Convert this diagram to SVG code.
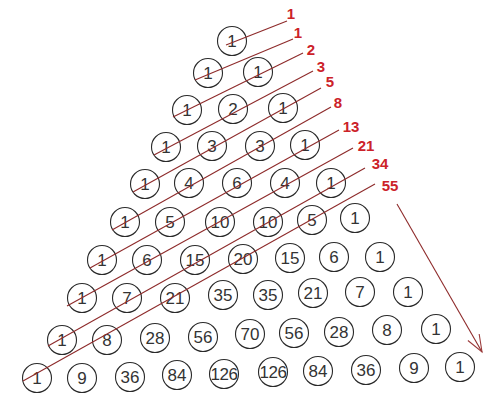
<svg xmlns="http://www.w3.org/2000/svg" width="489" height="397" viewBox="0 0 489 397">
<defs>
<style>
.n circle{fill:none;stroke:#2a2a2a;stroke-width:1.1}
.n text{font-family:"Liberation Sans",Arial,sans-serif;font-size:17px;fill:#333;text-anchor:middle}
.d line{stroke:#8e2b2b;stroke-width:1.1}
.lab{font-family:"Liberation Sans",Arial,sans-serif;font-size:15px;font-weight:bold;fill:#cc2229;text-anchor:middle}
</style>
<marker id="ah" markerUnits="userSpaceOnUse" markerWidth="24" markerHeight="16" viewBox="-20 -8 22 16" refX="0" refY="0" orient="auto">
<path d="M-17,-6.5 L0,0 L-17,6.5" fill="none" stroke="#9b3b3b" stroke-width="1.1"/>
</marker>
</defs>
<rect width="489" height="397" fill="#fff"/>
<g id="nodes">
<g id="r0c0" class="n"><circle cx="232" cy="41" r="14.5"/><text x="232" y="47">1</text></g>
<g id="r1c0" class="n"><circle cx="208" cy="73" r="14.5"/><text x="208" y="79">1</text></g>
<g id="r1c1" class="n"><circle cx="258" cy="72" r="14.5"/><text x="258" y="78">1</text></g>
<g id="r2c0" class="n"><circle cx="187" cy="110" r="14.5"/><text x="187" y="116">1</text></g>
<g id="r2c1" class="n"><circle cx="233" cy="109" r="14.5"/><text x="233" y="115">2</text></g>
<g id="r2c2" class="n"><circle cx="283" cy="108" r="14.5"/><text x="283" y="114">1</text></g>
<g id="r3c0" class="n"><circle cx="166" cy="147" r="14.5"/><text x="166" y="153">1</text></g>
<g id="r3c1" class="n"><circle cx="212" cy="146" r="14.5"/><text x="212" y="152">3</text></g>
<g id="r3c2" class="n"><circle cx="260" cy="146" r="14.5"/><text x="260" y="152">3</text></g>
<g id="r3c3" class="n"><circle cx="305" cy="145" r="14.5"/><text x="305" y="151">1</text></g>
<g id="r4c0" class="n"><circle cx="145" cy="184" r="14.5"/><text x="145" y="190">1</text></g>
<g id="r4c1" class="n"><circle cx="189" cy="183" r="14.5"/><text x="189" y="189">4</text></g>
<g id="r4c2" class="n"><circle cx="237" cy="183" r="14.5"/><text x="237" y="189">6</text></g>
<g id="r4c3" class="n"><circle cx="285" cy="183" r="14.5"/><text x="285" y="189">4</text></g>
<g id="r4c4" class="n"><circle cx="331" cy="183" r="14.5"/><text x="331" y="189">1</text></g>
<g id="r5c0" class="n"><circle cx="125" cy="222" r="14.5"/><text x="125" y="228">1</text></g>
<g id="r5c1" class="n"><circle cx="170" cy="222" r="14.5"/><text x="170" y="228">5</text></g>
<g id="r5c2" class="n"><circle cx="220" cy="222" r="14.5"/><text x="220" y="228">10</text></g>
<g id="r5c3" class="n"><circle cx="268" cy="222" r="14.5"/><text x="268" y="228">10</text></g>
<g id="r5c4" class="n"><circle cx="312" cy="220" r="14.5"/><text x="312" y="226">5</text></g>
<g id="r5c5" class="n"><circle cx="355" cy="218" r="14.5"/><text x="355" y="224">1</text></g>
<g id="r6c0" class="n"><circle cx="102" cy="260" r="14.5"/><text x="102" y="266">1</text></g>
<g id="r6c1" class="n"><circle cx="147" cy="260" r="14.5"/><text x="147" y="266">6</text></g>
<g id="r6c2" class="n"><circle cx="195" cy="260" r="14.5"/><text x="195" y="266">15</text></g>
<g id="r6c3" class="n"><circle cx="243" cy="259" r="14.5"/><text x="243" y="265">20</text></g>
<g id="r6c4" class="n"><circle cx="290" cy="258" r="14.5"/><text x="290" y="264">15</text></g>
<g id="r6c5" class="n"><circle cx="334" cy="257" r="14.5"/><text x="334" y="263">6</text></g>
<g id="r6c6" class="n"><circle cx="380" cy="257" r="14.5"/><text x="380" y="263">1</text></g>
<g id="r7c0" class="n"><circle cx="82" cy="298" r="14.5"/><text x="82" y="304">1</text></g>
<g id="r7c1" class="n"><circle cx="127" cy="298" r="14.5"/><text x="127" y="304">7</text></g>
<g id="r7c2" class="n"><circle cx="175" cy="298" r="14.5"/><text x="175" y="304">21</text></g>
<g id="r7c3" class="n"><circle cx="223" cy="295" r="14.5"/><text x="223" y="301">35</text></g>
<g id="r7c4" class="n"><circle cx="268" cy="295" r="14.5"/><text x="268" y="301">35</text></g>
<g id="r7c5" class="n"><circle cx="313" cy="293" r="14.5"/><text x="313" y="299">21</text></g>
<g id="r7c6" class="n"><circle cx="360" cy="292" r="14.5"/><text x="360" y="298">7</text></g>
<g id="r7c7" class="n"><circle cx="408" cy="292" r="14.5"/><text x="408" y="298">1</text></g>
<g id="r8c0" class="n"><circle cx="62" cy="340" r="14.5"/><text x="62" y="346">1</text></g>
<g id="r8c1" class="n"><circle cx="107" cy="340" r="14.5"/><text x="107" y="346">8</text></g>
<g id="r8c2" class="n"><circle cx="155" cy="338" r="14.5"/><text x="155" y="344">28</text></g>
<g id="r8c3" class="n"><circle cx="203" cy="337" r="14.5"/><text x="203" y="343">56</text></g>
<g id="r8c4" class="n"><circle cx="250" cy="334" r="14.5"/><text x="250" y="340">70</text></g>
<g id="r8c5" class="n"><circle cx="294" cy="333" r="14.5"/><text x="294" y="339">56</text></g>
<g id="r8c6" class="n"><circle cx="339" cy="332" r="14.5"/><text x="339" y="338">28</text></g>
<g id="r8c7" class="n"><circle cx="387" cy="330" r="14.5"/><text x="387" y="336">8</text></g>
<g id="r8c8" class="n"><circle cx="436" cy="329" r="14.5"/><text x="436" y="335">1</text></g>
<g id="r9c0" class="n"><circle cx="37" cy="378" r="14.5"/><text x="37" y="384">1</text></g>
<g id="r9c1" class="n"><circle cx="82" cy="378" r="14.5"/><text x="82" y="384">9</text></g>
<g id="r9c2" class="n"><circle cx="130" cy="377" r="14.5"/><text x="130" y="383">36</text></g>
<g id="r9c3" class="n"><circle cx="177" cy="375" r="14.5"/><text x="177" y="381">84</text></g>
<g id="r9c4" class="n"><circle cx="224" cy="374" r="14.5"/><text x="224" y="380" letter-spacing="-0.5">126</text></g>
<g id="r9c5" class="n"><circle cx="273" cy="372" r="14.5"/><text x="273" y="378" letter-spacing="-0.5">126</text></g>
<g id="r9c6" class="n"><circle cx="318" cy="371" r="14.5"/><text x="318" y="377">84</text></g>
<g id="r9c7" class="n"><circle cx="366" cy="370" r="14.5"/><text x="366" y="376">36</text></g>
<g id="r9c8" class="n"><circle cx="414" cy="368" r="14.5"/><text x="414" y="374">9</text></g>
<g id="r9c9" class="n"><circle cx="460" cy="367" r="14.5"/><text x="460" y="373">1</text></g>
</g>
<g id="connectors" class="d">
<line x1="226" y1="45" x2="287" y2="21"/>
<line x1="195" y1="80" x2="293" y2="39"/>
<line x1="173" y1="117" x2="303" y2="53"/>
<line x1="154" y1="155" x2="313" y2="71"/>
<line x1="133" y1="192" x2="321" y2="88"/>
<line x1="112" y1="230" x2="331" y2="107"/>
<line x1="90" y1="268" x2="339" y2="130"/>
<line x1="67" y1="306" x2="353" y2="148"/>
<line x1="48" y1="346" x2="365" y2="168"/>
<line x1="23" y1="381" x2="375" y2="184"/>
<line x1="397" y1="204" x2="482" y2="352" stroke="#9b3b3b" marker-end="url(#ah)"/>
</g>
<g id="labels">
<text class="lab" x="291" y="19">1</text>
<text class="lab" x="298" y="38">1</text>
<text class="lab" x="311" y="55">2</text>
<text class="lab" x="321" y="72">3</text>
<text class="lab" x="330" y="87">5</text>
<text class="lab" x="338" y="108">8</text>
<text class="lab" x="351" y="132">13</text>
<text class="lab" x="366" y="151">21</text>
<text class="lab" x="380" y="169">34</text>
<text class="lab" x="390" y="191">55</text>
</g>
</svg>
